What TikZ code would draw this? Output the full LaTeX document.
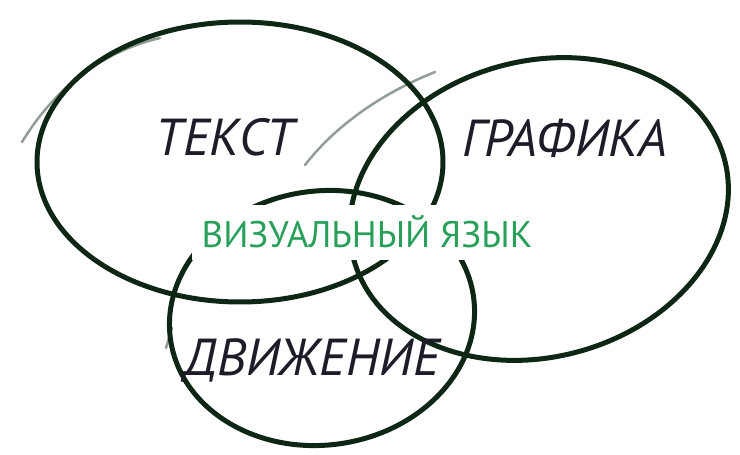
\documentclass[tikz,border=0pt]{standalone}
\usepackage{fontspec}
\setmainfont{PT Sans}
\definecolor{ink}{RGB}{14,38,20}
\definecolor{label}{RGB}{30,28,40}
\definecolor{vizgreen}{RGB}{40,160,90}
\tikzset{
  kontur/.style={draw=ink, line width=5pt},
  shtrih/.style={draw=ink, line width=2.5pt, opacity=0.45, line cap=round},
  metka/.style={text=label, font=\fontsize{52}{56}\selectfont\itshape},
}

\begin{document}
\begin{tikzpicture}[x=1pt,y=-1pt]
	\useasboundingbox (0,0) rectangle (740,455);
	% three ellipses
	\draw[kontur] (240,162) ellipse [x radius=203, y radius=140];
	\draw[kontur] (539,209) ellipse [x radius=192, y radius=148, rotate=15];
	\draw[kontur] (322,318) ellipse [x radius=153, y radius=127, rotate=8];
	% brush tails
	\draw[shtrih] (22,142) .. controls (60,80) and (110,50) .. (160,38);
	\draw[shtrih] (305,165) .. controls (340,120) and (390,90) .. (435,72);
	\draw[shtrih] (172,328) -- (166,348);
	
	\node[metka] (tekst) at (225,137) {ТЕКСТ};
	\node[metka] (grafika) at (565,138) {ГРАФИКА};
	\node[metka] (dvizhenie) at (312,360) {ДВИЖЕНИЕ};
	\node[fill=white, text=vizgreen, font=\fontsize{37}{41}\selectfont,
		minimum width=350, minimum height=55] (yazyk) at (367,232) {ВИЗУАЛЬНЫЙ ЯЗЫК};
\end{tikzpicture}
\end{document}
